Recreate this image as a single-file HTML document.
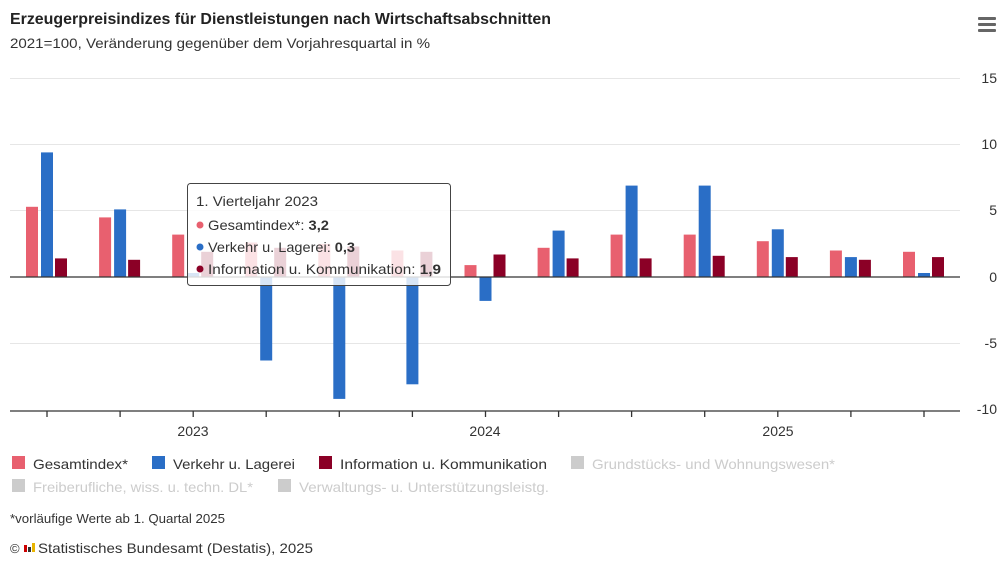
<!DOCTYPE html>
<html><head><meta charset="utf-8"><style>
body{margin:0;background:#fff}
svg{display:block;font-family:"Liberation Sans",sans-serif}
</style></head><body>
<svg width="1000" height="565" viewBox="0 0 1000 565">
<rect width="1000" height="565" fill="#fff"/>
<text x="10" y="24" font-size="16" font-weight="bold" fill="#222" textLength="541" lengthAdjust="spacingAndGlyphs">Erzeugerpreisindizes für Dienstleistungen nach Wirtschaftsabschnitten</text>
<text x="10" y="48" font-size="14" fill="#333" textLength="420" lengthAdjust="spacingAndGlyphs">2021=100, Veränderung gegenüber dem Vorjahresquartal in %</text>
<g fill="#666"><rect x="978" y="17" width="18" height="3" rx="1"/><rect x="978" y="23" width="18" height="3" rx="1"/><rect x="978" y="29" width="18" height="3" rx="1"/></g>
<g stroke="#e6e6e6" stroke-width="1">
<line x1="10" x2="960" y1="78.5" y2="78.5"/><line x1="10" x2="960" y1="144.5" y2="144.5"/><line x1="10" x2="960" y1="210.5" y2="210.5"/><line x1="10" x2="960" y1="343.5" y2="343.5"/>
</g>
<g font-size="14" fill="#333" text-anchor="end">
<text x="997" y="83">15</text><text x="997" y="149">10</text><text x="997" y="215">5</text><text x="997" y="282">0</text><text x="997" y="348">-5</text><text x="997" y="414">-10</text>
</g>
<g fill="#e8606f">
<rect x="26" y="206.8" width="12" height="70.2"/>
<rect x="99.1" y="217.4" width="12" height="59.6"/>
<rect x="172.2" y="234.6" width="12" height="42.4"/>
<rect x="245.2" y="242.5" width="12" height="34.5"/>
<rect x="318.3" y="243.9" width="12" height="33.1"/>
<rect x="391.4" y="250.5" width="12" height="26.5"/>
<rect x="464.5" y="265.1" width="12" height="11.9"/>
<rect x="537.6" y="247.8" width="12" height="29.2"/>
<rect x="610.6" y="234.6" width="12" height="42.4"/>
<rect x="683.7" y="234.6" width="12" height="42.4"/>
<rect x="756.8" y="241.2" width="12" height="35.8"/>
<rect x="829.9" y="250.5" width="12" height="26.5"/>
<rect x="903" y="251.8" width="12" height="25.2"/>
</g>
<g fill="#2a6ec6">
<rect x="41" y="152.4" width="12" height="124.6"/>
<rect x="114.1" y="209.4" width="12" height="67.6"/>
<rect x="187.2" y="273" width="12" height="4"/>
<rect x="260.2" y="277" width="12" height="83.5"/>
<rect x="333.3" y="277" width="12" height="121.9"/>
<rect x="406.4" y="277" width="12" height="107.3"/>
<rect x="479.5" y="277" width="12" height="23.9"/>
<rect x="552.6" y="230.6" width="12" height="46.4"/>
<rect x="625.6" y="185.6" width="12" height="91.4"/>
<rect x="698.7" y="185.6" width="12" height="91.4"/>
<rect x="771.8" y="229.3" width="12" height="47.7"/>
<rect x="844.9" y="257.1" width="12" height="19.9"/>
<rect x="918" y="273" width="12" height="4"/>
</g>
<g fill="#8b0026">
<rect x="55" y="258.4" width="12" height="18.6"/>
<rect x="128.1" y="259.8" width="12" height="17.2"/>
<rect x="201.2" y="251.8" width="12" height="25.2"/>
<rect x="274.2" y="247.8" width="12" height="29.2"/>
<rect x="347.3" y="246.5" width="12" height="30.5"/>
<rect x="420.4" y="251.8" width="12" height="25.2"/>
<rect x="493.5" y="254.5" width="12" height="22.5"/>
<rect x="566.6" y="258.4" width="12" height="18.6"/>
<rect x="639.6" y="258.4" width="12" height="18.6"/>
<rect x="712.7" y="255.8" width="12" height="21.2"/>
<rect x="785.8" y="257.1" width="12" height="19.9"/>
<rect x="858.9" y="259.8" width="12" height="17.2"/>
<rect x="932" y="257.1" width="12" height="19.9"/>
</g>
<line x1="10" x2="960" y1="277" y2="277" stroke="#333" stroke-width="1.3"/>
<line x1="10" x2="960" y1="411" y2="411" stroke="#333" stroke-width="1.3"/>
<g stroke="#333" stroke-width="1.3">
<line x1="47" x2="47" y1="411" y2="417"/><line x1="120.1" x2="120.1" y1="411" y2="417"/><line x1="193.2" x2="193.2" y1="411" y2="417"/><line x1="266.2" x2="266.2" y1="411" y2="417"/><line x1="339.3" x2="339.3" y1="411" y2="417"/><line x1="412.4" x2="412.4" y1="411" y2="417"/><line x1="485.5" x2="485.5" y1="411" y2="417"/><line x1="558.6" x2="558.6" y1="411" y2="417"/><line x1="631.6" x2="631.6" y1="411" y2="417"/><line x1="704.7" x2="704.7" y1="411" y2="417"/><line x1="777.8" x2="777.8" y1="411" y2="417"/><line x1="850.9" x2="850.9" y1="411" y2="417"/><line x1="924" x2="924" y1="411" y2="417"/>
</g>
<g font-size="14" fill="#333" text-anchor="middle">
<text x="193" y="436">2023</text><text x="485" y="436">2024</text><text x="778" y="436">2025</text>
</g>
<g transform="translate(187,183)">
<rect x="0.5" y="0.5" width="263" height="102" rx="3" fill="#fff" fill-opacity="0.82" stroke="#444"/>
<text x="9" y="23" font-size="14" fill="#333" textLength="122" lengthAdjust="spacingAndGlyphs">1. Vierteljahr 2023</text>
<circle cx="13" cy="42" r="3.5" fill="#e8606f"/><text x="21" y="47" font-size="14" fill="#333" textLength="121" lengthAdjust="spacingAndGlyphs">Gesamtindex*: <tspan font-weight="bold">3,2</tspan></text>
<circle cx="13" cy="64" r="3.5" fill="#2a6ec6"/><text x="21" y="69" font-size="14" fill="#333" textLength="147" lengthAdjust="spacingAndGlyphs">Verkehr u. Lagerei: <tspan font-weight="bold">0,3</tspan></text>
<circle cx="13" cy="86" r="3.5" fill="#8b0026"/><text x="21" y="91" font-size="14" fill="#333" textLength="233" lengthAdjust="spacingAndGlyphs">Information u. Kommunikation: <tspan font-weight="bold">1,9</tspan></text>
</g>
<g font-size="14">
<rect x="12" y="456" width="13" height="13" fill="#e8606f"/><text x="33" y="469" fill="#333" textLength="95" lengthAdjust="spacingAndGlyphs">Gesamtindex*</text>
<rect x="152" y="456" width="13" height="13" fill="#2a6ec6"/><text x="173" y="469" fill="#333" textLength="122" lengthAdjust="spacingAndGlyphs">Verkehr u. Lagerei</text>
<rect x="319" y="456" width="13" height="13" fill="#8b0026"/><text x="340" y="469" fill="#333" textLength="207" lengthAdjust="spacingAndGlyphs">Information u. Kommunikation</text>
<rect x="571" y="456" width="13" height="13" fill="#ccc"/><text x="592" y="469" fill="#ccc" textLength="243" lengthAdjust="spacingAndGlyphs">Grundstücks- und Wohnungswesen*</text>
<rect x="12" y="479" width="13" height="13" fill="#ccc"/><text x="33" y="492" fill="#ccc" textLength="220" lengthAdjust="spacingAndGlyphs">Freiberufliche, wiss. u. techn. DL*</text>
<rect x="278" y="479" width="13" height="13" fill="#ccc"/><text x="299" y="492" fill="#ccc" textLength="250" lengthAdjust="spacingAndGlyphs">Verwaltungs- u. Unterstützungsleistg.</text>
</g>
<text x="10" y="523" font-size="12.5" fill="#333" textLength="215" lengthAdjust="spacingAndGlyphs">*vorläufige Werte ab 1. Quartal 2025</text>
<text x="10" y="553" font-size="13" fill="#333">©</text>
<rect x="24" y="545" width="3" height="7" fill="#c00"/><rect x="28" y="547" width="3" height="5" fill="#333"/><rect x="32" y="543" width="3" height="9" fill="#e8b400"/>
<text x="38" y="553" font-size="14" fill="#333" textLength="275" lengthAdjust="spacingAndGlyphs">Statistisches Bundesamt (Destatis), 2025</text>
</svg>
</body></html>
